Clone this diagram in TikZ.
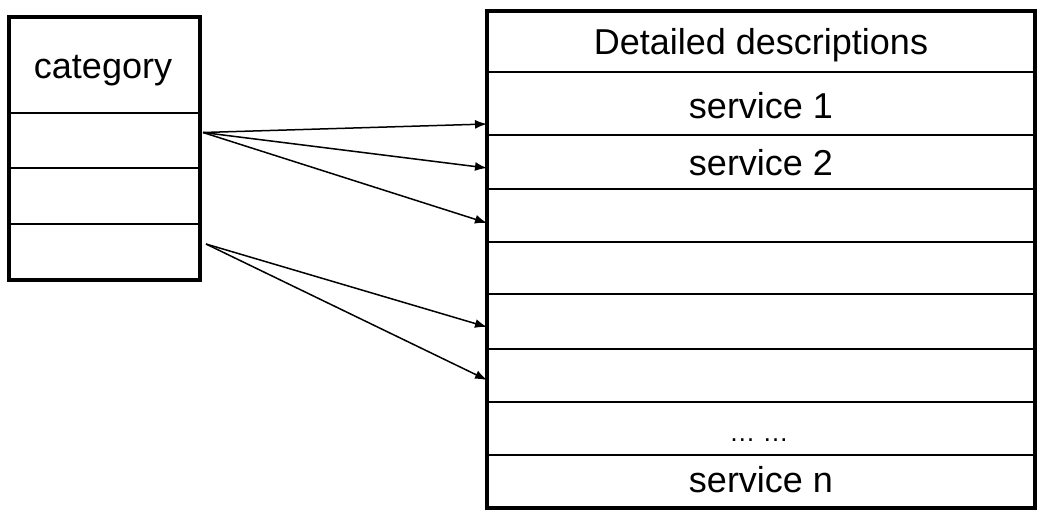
\documentclass[tikz,border=0pt]{standalone}
\usepackage{fontspec}
\setmainfont{Liberation Sans}
\usetikzlibrary{arrows.meta}
\begin{document}
\begin{tikzpicture}[x=1pt,y=-1pt]
\useasboundingbox (0,0) rectangle (1040,511);
\tikzset{
  cell/.style={draw,line width=1.6pt,anchor=north west,inner sep=0pt,outer sep=0pt},
  lcell/.style={cell,minimum width=191pt},
  rcell/.style={cell,minimum width=548pt},
  txt/.style={anchor=base,inner sep=0pt,font=\fontsize{36}{40}\selectfont},
  frame/.style={draw,line width=4.2pt},
  link/.style={line width=1.5pt,-{Latex[length=12pt,width=9pt]}}
}
% left table
\node[lcell,minimum height=96pt] (L0) at (9,17) {};
\node[lcell,minimum height=55pt] (L1) at (9,113) {};
\node[lcell,minimum height=56pt] (L2) at (9,168) {};
\node[lcell,minimum height=56pt] (L3) at (9,224) {};
\draw[frame] (L0.north west) rectangle (L3.south east);
\node[txt] (tcat) at (103,78) {category};
% right table
\node[rcell,minimum height=61pt] (R0) at (487,11) {};
\node[rcell,minimum height=63pt] (R1) at (487,72) {};
\node[rcell,minimum height=54pt] (R2) at (487,135) {};
\node[rcell,minimum height=53pt] (R3) at (487,189) {};
\node[rcell,minimum height=52pt] (R4) at (487,242) {};
\node[rcell,minimum height=55pt] (R5) at (487,294) {};
\node[rcell,minimum height=53pt] (R6) at (487,349) {};
\node[rcell,minimum height=53pt] (R7) at (487,402) {};
\node[rcell,minimum height=53pt] (R8) at (487,455) {};
\draw[frame] (R0.north west) rectangle (R8.south east);
\node[txt] (t0) at (761,55) {Detailed descriptions};
\node[txt] (t1) at (761,118) {service 1};
\node[txt] (t2) at (761,175) {service 2};
\node[txt,font=\fontsize{26}{28}\selectfont] (dots) at (759,441) {\dots\ \dots};
\node[txt] (tn) at (761,492) {service n};
% arrows
\coordinate (s1) at ([xshift=3pt,yshift=8pt]L1.east);
\coordinate (s2) at ([xshift=6pt,yshift=-20pt]L3.north east);
\draw[link] (s1) -- ([yshift=-20.5pt]R1.west);
\draw[link] (s1) -- ([yshift=-6pt]R2.west);
\draw[link] (s1) -- ([yshift=-7.5pt]R3.west);
\draw[link] (s2) -- ([yshift=-5.5pt]R5.west);
\draw[link] (s2) -- ([yshift=-4.5pt]R6.west);
\end{tikzpicture}
\end{document}
